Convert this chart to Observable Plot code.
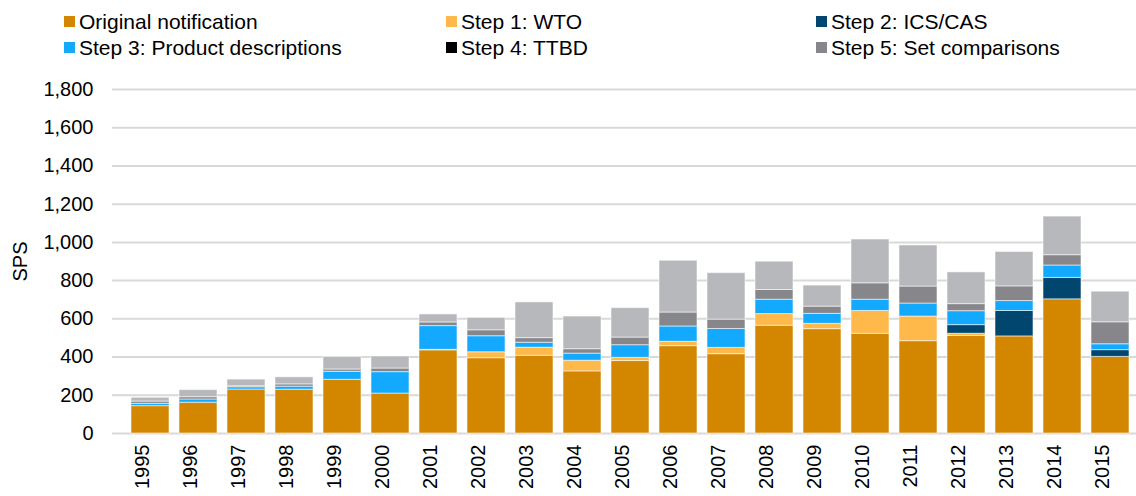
<!DOCTYPE html>
<html>
<head>
<meta charset="utf-8">
<script src="https://cdn.jsdelivr.net/npm/d3@7"></script>
<script src="https://cdn.jsdelivr.net/npm/@observablehq/plot@0.6"></script>
<style>
  html, body { margin: 0; padding: 0; background: #fff; }
  body { width: 1136px; height: 496px; overflow: hidden; font-family: "Liberation Sans", Arial, sans-serif; }
  #legend { position: relative; width: 1136px; height: 66px; }
  .item { position: absolute; display: flex; align-items: center; font-size: 21px; color: #000; white-space: nowrap; line-height: 1; }
  .sw { width: 11px; height: 11px; margin-right: 4px; display: inline-block; }
  #chart svg { display: block; }
</style>
</head>
<body>
<div id="legend"></div>
<div id="chart"></div>
<script>
const years = ["1995","1996","1997","1998","1999","2000","2001","2002","2003","2004","2005","2006","2007","2008","2009","2010","2011","2012","2013","2014","2015"];
const seriesNames = ["Original notification","Step 1: WTO","Step 2: ICS/CAS","Step 3: Product descriptions","Step 4: TTBD","Step 5: Set comparisons","Other"];
const seriesColors = ["#D38600","#FFB94A","#00466E","#12A9FF","#000000","#87868B","#B7B8BC"];
const legendNames = ["Original notification","Step 1: WTO","Step 2: ICS/CAS","Step 3: Product descriptions","Step 4: TTBD","Step 5: Set comparisons"];
const original = [143,161,230,229,281,209,435,394,407,325,379,457,415,564,546,522,483,510,508,702,401];
const step1Wto = [0,0,0,0,0,0,3,31,42,56,17,23,33,61,28,119,129,12,0,0,0];
const step2Ics = [0,0,0,0,0,0,0,0,0,0,0,0,0,0,0,0,0,45,133,112,35];
const step3Prod = [12,17,12,16,42,112,124,84,26,37,66,80,99,75,52,59,68,73,52,65,31];
const step4Ttbd = [0,0,0,0,0,0,0,0,0,0,0,0,0,0,0,0,0,0,0,0,0];
const step5Set = [12,12,5,12,12,19,19,31,24,23,40,73,49,51,38,86,89,37,77,54,115];
const other = [20,37,35,37,65,63,42,65,187,171,154,271,243,148,110,229,215,166,180,202,160];
const yTicks = [0,200,400,600,800,1000,1200,1400,1600,1800];

const seriesValues = [original, step1Wto, step2Ics, step3Prod, step4Ttbd, step5Set, other];
const rows = years.flatMap((yr, i) => seriesNames.map((s, k) => ({year: yr, series: s, value: seriesValues[k][i]})));

// Legend
const legendPos = [[64,21],[446,21],[816,21],[64,47],[446,47],[816,47]];
const lg = document.getElementById("legend");
legendNames.forEach((n, i) => {
  const d = document.createElement("div");
  d.className = "item";
  d.style.left = legendPos[i][0] + "px";
  d.style.top = (legendPos[i][1] - 11) + "px";
  d.style.height = "22px";
  const sw = document.createElement("span");
  sw.className = "sw";
  sw.style.background = seriesColors[seriesNames.indexOf(n)];
  d.appendChild(sw);
  d.appendChild(document.createTextNode(n));
  lg.appendChild(d);
});

const chart = Plot.plot({
  width: 1136,
  height: 430,
  marginLeft: 112,
  marginRight: 0,
  marginTop: 23,
  marginBottom: 63,
  style: {fontFamily: "'Liberation Sans', Arial, sans-serif", color: "#000", background: "#fff"},
  x: {domain: years, range: [118.5, 1141.5], padding: 0.2},
  y: {domain: [0, 1800]},
  color: {domain: seriesNames, range: seriesColors},
  marks: [
    Plot.gridY(yTicks, {stroke: "#D9D9D9", strokeOpacity: 1, strokeWidth: 2}),
    Plot.barY(rows, {x: "year", y: "value", fill: "series", order: seriesNames, stroke: "#ffffff", strokeOpacity: 0.55, strokeWidth: 1}),
    Plot.axisY(yTicks, {tickSize: 0, tickPadding: 19, tickFormat: d3.format(","), fontSize: 20, label: "SPS", labelAnchor: "center", labelArrow: "none", labelOffset: 100}),
    Plot.axisX({tickSize: 0, tickRotate: -90, tickPadding: 11, fontSize: 20, dx: -8, label: null})
  ]
});
document.getElementById("chart").appendChild(chart);
</script>
</body>
</html>
